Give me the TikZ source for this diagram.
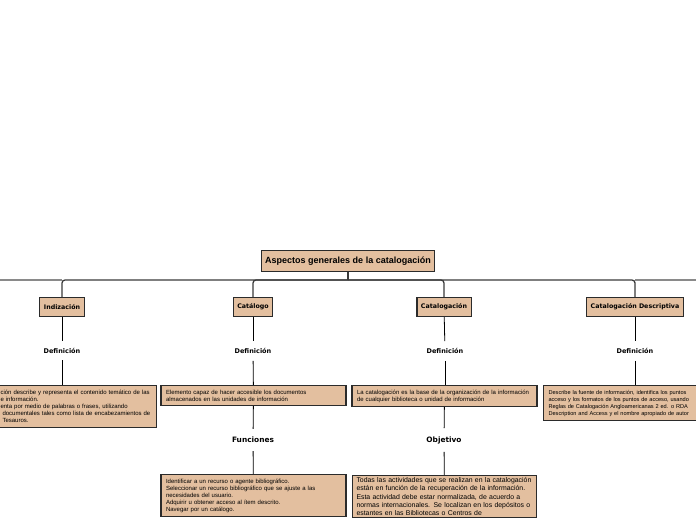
\documentclass[tikz,border=0pt]{standalone}
\usepackage{fontspec}
\setmainfont{Liberation Sans}
\newfontfamily\verdfont{DejaVu Sans}
\usetikzlibrary{positioning,calc}
\definecolor{ctan}{HTML}{E3BF9F}
\definecolor{cedge}{HTML}{2B2B2B}
\definecolor{cbus}{HTML}{3A3A3A}
\definecolor{cfade}{HTML}{8A8A8A}

\begin{document}
\begin{tikzpicture}[
  x=1pt,y=-1pt,
  box/.style={draw=cedge,fill=ctan,line width=1.1pt,inner sep=3pt},
  topic/.style={box,font=\verdfont\bfseries\fontsize{6.3}{7}\selectfont,minimum height=19pt,inner xsep=4pt},
  note/.style={box,anchor=north,align=left,text width=175pt,font=\fontsize{6}{7}\selectfont,inner xsep=5pt,inner ysep=3pt},
  tag/.style={font=\verdfont\bfseries\fontsize{6.5}{7}\selectfont,inner xsep=2pt,inner ysep=7pt},
  bigtag/.style={tag,font=\verdfont\bfseries\fontsize{7.4}{8}\selectfont,inner ysep=8pt},
  bus/.style={cbus,line width=1.3pt,rounded corners=3pt},
  link/.style={black,line width=0.8pt}]

\useasboundingbox (0,0) rectangle (696,520);

% ---------- root and the four topics ----------
\node[box,font=\bfseries\fontsize{9}{10}\selectfont,minimum height=21pt,inner xsep=4pt] (root) at (348,261)
  {Aspectos generales de la catalogación};
\node[topic] (indiz) at (62,307) {Indización};
\node[topic] (catal) at (253,307) {Catálogo};
\node[topic] (catn)  at (444,307) {Catalogación};
\node[topic] (desc)  at (635,307) {Catalogación Descriptiva};

% bus from the root, out to the page edges on both sides
\coordinate (bus)  at (348,280);
\coordinate (offL) at (0,280);
\coordinate (offR) at (696,280);
\draw[cfade,line width=1.3pt] (indiz.north |- bus) -- (offL);
\draw[cfade,line width=1.3pt] (desc.north |- bus) -- (offR);
\draw[bus] (root.south) -- (bus);
\draw[bus] (bus) -| (indiz.north);
\draw[bus] (bus) -| (catal.north);
\draw[bus] (bus) -| (catn.north);
\draw[bus] (bus) -| (desc.north);

% ---------- definitions under each topic ----------
\node[tag] (d1) at (62,350.5)  {Definición};
\node[tag] (d2) at (253,351)   {Definición};
\node[tag] (d3) at (445,351)   {Definición};
\node[tag] (d4) at (635,351)   {Definición};
\draw[link] (indiz) -- (d1);
\draw[link] (catal) -- (d2);
\draw[link] (catn)  -- (d3);
\draw[link] (desc)  -- (d4);

\node[note,anchor=north west,text width=153pt,inner xsep=4pt,minimum height=42pt] (n1) at (-5,385)
  {\hspace*{1pt}ción describe y representa el contenido temático de las\\
   \hspace*{1pt}e información.\\
   \hspace*{1pt}enta por medio de palabras o frases, utilizando\\
   \hspace*{3pt}documentales tales como lista de encabezamientos de\\
   \hspace*{3pt}Tesauros.};
\node[note,minimum height=20pt] (n2) at (253.5,385)
  {Elemento capaz de hacer accesible los documentos\\ almacenados en las unidades de información};
\node[note,minimum height=21pt] (n3) at (444.5,385)
  {La catalogación es la base de la organización de la información\\ de cualquier biblioteca o unidad de información};
\node[note,anchor=north west,text width=170pt,font=\fontsize{5.6}{7}\selectfont,minimum height=35pt] (n4) at (543,385)
  {Describe la fuente de información, identifica los puntos\\
   acceso y los formatos de los puntos de acceso, usando\\
   Reglas de Catalogación Angloamericanas 2 ed. o RDA\\
   Description and Access y el nombre apropiado de autor};
\draw[link] (d1.south) -- (d1.south |- n1.north);
\draw[link] (d2) -- (n2);
\draw[link] (d3.south) -- (d3.south |- n3.north);
\draw[link] (d4.south) -- (d4.south |- n4.north);

% ---------- second level: functions and objective ----------
\node[bigtag] (fun) at (253,440) {Funciones};
\node[bigtag] (obj) at (444,440) {Objetivo};
\draw[link] (n2) -- (fun);
\draw[link] (n3) -- (obj);

\node[note,minimum height=42pt] (n5) at (253.5,474)
  {Identificar a un recurso o agente bibliográfico.\\
   Seleccionar un recurso bibliográfico que se ajuste a las\\
   necesidades del usuario.\\
   Adquirir u obtener acceso al ítem descrito.\\
   Navegar por un catálogo.};
\node[note,text width=176pt,font=\fontsize{6.9}{8.3}\selectfont,inner xsep=4pt,inner ysep=2pt] (n6) at (444.5,475)
  {Todas las actividades que se realizan en la catalogación\\
   están en función de la recuperación de la información.\\
   Esta actividad debe estar normalizada, de acuerdo a\\
   normas internacionales. Se localizan en los depósitos o\\
   estantes en las Bibliotecas o Centros de};
\draw[link] (fun) -- (n5);
\draw[link] (obj) -- (n6);
\end{tikzpicture}
\end{document}
